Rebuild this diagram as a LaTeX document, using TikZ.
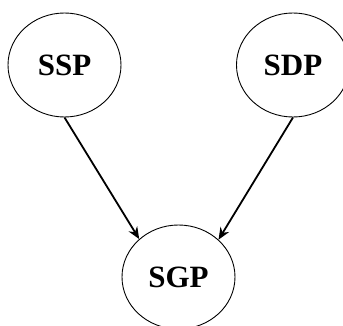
\documentclass[tikz,border=0pt]{standalone}
\usepackage{fontspec}
\setmainfont{Liberation Serif}
\usetikzlibrary{shapes.geometric,arrows.meta}
\begin{document}
\begin{tikzpicture}[x=1pt,y=1pt,
  proc/.style={draw, ellipse, line width=0.9pt, minimum width=113pt, minimum height=104pt, inner sep=0pt, font=\fontsize{31}{35}\selectfont\bfseries},
  link/.style={line width=1.8pt, -{Stealth[length=12pt,width=10pt]}}]
\useasboundingbox (0,0) rectangle (343,325);
\node[proc] (ssp) at (64.5,260) {SSP};
\node[proc] (sdp) at (293,260) {SDP};
\node[proc] (sgp) at (178.5,48) {SGP};
\draw[link] (ssp.south) -- (sgp.136);
\draw[link] (sdp.south) -- (sgp.43);
\end{tikzpicture}
\end{document}
